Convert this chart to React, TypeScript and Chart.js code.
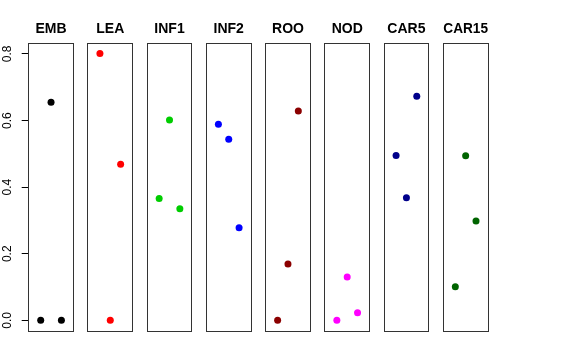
import React, { useEffect, useRef } from "react";
import { Chart, registerables } from "chart.js";

Chart.register(...registerables);

// ---- data ----
const panelNames = ["EMB", "LEA", "INF1", "INF2", "ROO", "NOD", "CAR5", "CAR15"];
const xPositions = [1, 2, 3];
const embValues = [0, 0.655, 0];
const leaValues = [0.801, 0, 0.469];
const inf1Values = [0.366, 0.602, 0.335];
const inf2Values = [0.589, 0.544, 0.278];
const rooValues = [0, 0.169, 0.629];
const nodValues = [0, 0.13, 0.023];
const car5Values = [0.495, 0.368, 0.673];
const car15Values = [0.101, 0.494, 0.298];
const yTicks = [0, 0.2, 0.4, 0.6, 0.8];

const panelValues = [embValues, leaValues, inf1Values, inf2Values, rooValues, nodValues, car5Values, car15Values];
const panelColors = ["#000000", "#FF0000", "#00CD00", "#0000FF", "#8B0000", "#FF00FF", "#00008B", "#006400"];

// ---- layout ----
const W = 576;
const H = 360;
const FIRST_LEFT = 28.7;
const PANEL_STEP = 59.23;
const PANEL_W = 44.7;
const AREA_BOTTOM = 331;
const FONT = "'Liberation Sans', Arial, Helvetica, sans-serif";
const BORDER = "#333333";

function panelLeft(i: number) {
  return FIRST_LEFT + PANEL_STEP * i;
}

function canvasLeft(i: number) {
  return i === 0 ? 0 : Math.round(panelLeft(i)) - 8;
}

function canvasWidth(i: number) {
  return i === 0 ? Math.ceil(FIRST_LEFT + PANEL_W) + 8 : 61;
}

function makeConfig(i: number): any {
  const L = panelLeft(i);
  const cl = canvasLeft(i);
  const cw = canvasWidth(i);
  const isFirst = i === 0;
  const padLeft = isFirst ? 0 : L - cl;
  const padRight = cl + cw - (L + PANEL_W);
  const zeroH = (s: any) => { s.height = 0; };
  const zeroW = (s: any) => { s.width = 0; };
  return {
    type: "scatter",
    data: {
      datasets: [
        {
          data: panelValues[i].map((v, j) => ({ x: xPositions[j], y: v })),
          backgroundColor: panelColors[i],
          borderWidth: 0,
          pointRadius: 3.5,
          pointHoverRadius: 3.5,
        },
      ],
    },
    options: {
      animation: false,
      responsive: false,
      events: [],
      layout: { padding: { left: padLeft, right: padRight, top: 0, bottom: H - AREA_BOTTOM } },
      plugins: {
        legend: { display: false },
        tooltip: { enabled: false },
        title: {
          display: true,
          text: panelNames[i],
          fullSize: false,
          color: "#000000",
          font: { family: FONT, size: 14, weight: "bold", lineHeight: 1.2 },
          padding: { top: 20.3, bottom: 6.2 },
        },
      },
      scales: {
        x: {
          type: "linear",
          position: "bottom",
          min: -0.16,
          max: 4.16,
          ticks: { display: false },
          grid: { display: false },
          border: { display: true, color: BORDER, width: 1 },
          afterFit: zeroH,
        },
        xTop: {
          type: "linear",
          axis: "x",
          position: "top",
          min: -0.16,
          max: 4.16,
          ticks: { display: false },
          grid: { display: false },
          border: { display: true, color: BORDER, width: 1 },
          afterFit: zeroH,
        },
        y: {
          type: "linear",
          position: "left",
          min: -0.032,
          max: 0.832,
          afterBuildTicks: (s: any) => {
            s.ticks = yTicks.map((v) => ({ value: v }));
          },
          ticks: isFirst
            ? {
                display: true,
                color: "#000000",
                font: { family: FONT, size: 12 },
                minRotation: 90,
                maxRotation: 90,
                crossAlign: "center",
                padding: 5.7,
                callback: (v: any) => Number(v).toFixed(1),
              }
            : { display: false },
          grid: isFirst
            ? { display: true, drawOnChartArea: false, drawTicks: true, tickLength: 7, color: "#000000", lineWidth: 1 }
            : { display: false },
          border: { display: true, color: BORDER, width: 1 },
          afterFit: isFirst ? (s: any) => { s.width = FIRST_LEFT; } : zeroW,
        },
        yRight: {
          type: "linear",
          axis: "y",
          position: "right",
          min: -0.032,
          max: 0.832,
          ticks: { display: false },
          grid: { display: false },
          border: { display: true, color: BORDER, width: 1 },
          afterFit: zeroW,
        },
      },
    },
  };
}

export default function App() {
  const refs = useRef<(HTMLCanvasElement | null)[]>([]);

  useEffect(() => {
    const charts: Chart[] = [];
    panelNames.forEach((_, i) => {
      const c = refs.current[i];
      if (c) charts.push(new Chart(c, makeConfig(i)));
    });
    return () => charts.forEach((c) => c.destroy());
  }, []);

  return (
    <div style={{ position: "fixed", left: 0, top: 0, width: W, height: H, background: "#ffffff", overflow: "hidden" }}>
      {panelNames.map((name, i) => (
        <canvas
          key={name}
          ref={(el) => { refs.current[i] = el; }}
          width={canvasWidth(i)}
          height={H}
          style={{ position: "absolute", left: canvasLeft(i), top: 0, width: canvasWidth(i), height: H }}
        />
      ))}
    </div>
  );
}
